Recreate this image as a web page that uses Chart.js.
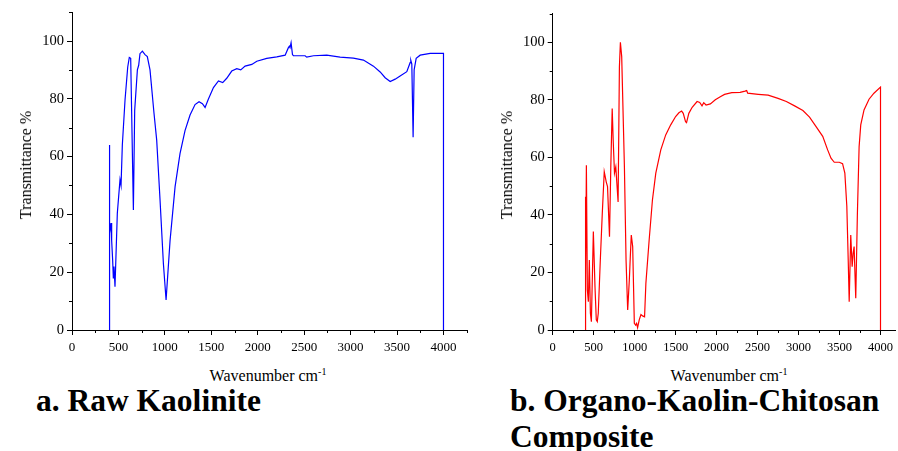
<!DOCTYPE html>
<html>
<head>
<meta charset="utf-8">
<script src="https://cdn.jsdelivr.net/npm/chart.js@4.4.1/dist/chart.umd.min.js"></script>
<style>
body { margin: 0; background: #fff; overflow: hidden; }
#page { position: relative; width: 898px; height: 451px; overflow: hidden; font-family: 'Liberation Serif', serif; color: #000; }
canvas { position: absolute; top: 0; }
.ytitle { position: absolute; transform: translate(-50%, -50%) rotate(-90deg); white-space: nowrap; font-size: 16px; }
.xtitle { position: absolute; transform: translateX(-50%); white-space: nowrap; font-size: 16px; line-height: 20px; }
.xtitle sup { font-size: 10px; }
.caption { position: absolute; font-weight: bold; font-size: 31.5px; line-height: 36px; white-space: nowrap; }
</style>
</head>
<body>
<div id="page">
  <canvas id="kaoChart" width="470" height="360" style="left:0"></canvas>
  <canvas id="compChart" width="418" height="360" style="left:480px"></canvas>
  <div class="ytitle" style="left:26px; top:165px">Transmittance %</div>
  <div class="ytitle" style="left:507px; top:165px">Transmittance %</div>
  <div class="xtitle" style="left:268px; top:362px">Wavenumber cm<sup>-1</sup></div>
  <div class="xtitle" style="left:729px; top:362px">Wavenumber cm<sup>-1</sup></div>
  <div class="caption" style="left:36px; top:383px">a. Raw Kaolinite</div>
  <div class="caption" style="left:510px; top:383px">b. Organo-Kaolin-Chitosan<br>Composite</div>
</div>
<script>
// 原始高嶺土 (a)
const kaoWave = [400, 400, 409, 420, 427, 438, 445, 452, 463, 488, 517, 528, 542, 571, 600, 617, 632, 661, 675, 704, 718, 732, 758, 786, 811, 840, 883, 912, 948, 984, 1013, 1056, 1110, 1163, 1217, 1271, 1325, 1368, 1404, 1433, 1469, 1523, 1577, 1623, 1666, 1720, 1774, 1817, 1864, 1936, 1990, 2097, 2205, 2295, 2330, 2341, 2348, 2359, 2374, 2384, 2510, 2528, 2600, 2743, 2887, 3030, 3138, 3246, 3318, 3372, 3426, 3480, 3533, 3605, 3641, 3648, 3659, 3673, 3684, 3706, 3749, 3857, 4000, 4000];
const kaoTrans = [0, 64, 33.5, 37, 31, 24, 18, 22, 15, 40.4, 52, 50, 64, 79.6, 91, 94.3, 94, 41.5, 76, 90, 91.6, 95.6, 96.5, 95.3, 94.6, 90, 75, 65.7, 45, 23, 10.4, 31, 49.6, 61, 69, 74.4, 78, 79, 78.3, 77, 79.9, 83.9, 86.2, 85.6, 87.1, 89.6, 90.4, 90, 91.3, 91.9, 93, 94, 94.5, 95.1, 97.7, 98.2, 97.7, 99.4, 95.3, 94.9, 94.9, 94.4, 94.9, 95.1, 94.4, 94.1, 93.4, 91.3, 89.3, 87.3, 86, 86.8, 87.9, 89.4, 92.5, 93.3, 92, 66.7, 90, 94, 95.1, 95.7, 95.7, 0];

// 有機高嶺土-幾丁聚醣複合材料 (b)
const compWave = [399, 399, 403, 411, 414, 423, 435, 447, 460, 472, 496, 516, 532, 544, 556, 581, 605, 629, 653, 669, 693, 709, 726, 738, 754, 770, 798, 814, 826, 842, 875, 895, 915, 935, 947, 959, 976, 996, 1012, 1024, 1036, 1056, 1077, 1097, 1121, 1137, 1177, 1217, 1258, 1319, 1379, 1440, 1500, 1540, 1573, 1593, 1621, 1633, 1661, 1702, 1762, 1794, 1822, 1843, 1871, 1924, 1984, 2045, 2097, 2186, 2287, 2347, 2367, 2379, 2508, 2629, 2750, 2851, 2952, 3053, 3134, 3214, 3295, 3355, 3396, 3436, 3497, 3537, 3565, 3589, 3606, 3618, 3637, 3654, 3666, 3678, 3698, 3718, 3739, 3759, 3799, 3860, 3920, 4000, 4000];
const compTrans = [0, 46.3, 16.2, 57.3, 57.3, 13.9, 9.8, 24.3, 5.8, 2.9, 34.2, 15, 3.5, 2.9, 5.8, 24.3, 40.5, 55, 51.5, 49.8, 32.4, 56.7, 77, 66, 54.5, 56.7, 44.5, 91.5, 100, 95, 56.7, 24.3, 6.95, 17.4, 25.5, 33, 29, 2.3, 1.7, 2.3, 0.8, 3.5, 5.4, 4.9, 4.6, 16.2, 31.3, 45.2, 54.5, 62.6, 67.8, 71.3, 74.2, 75.5, 76.1, 75.3, 72.4, 72.1, 75.3, 77.4, 79.4, 79.1, 77.9, 79, 78.2, 78.6, 80, 81.1, 81.9, 82.5, 82.6, 83, 83.2, 82.3, 81.9, 81.6, 80.5, 79.4, 77.9, 76.3, 74, 70.7, 67.3, 62.6, 59.7, 58.3, 58.3, 57.8, 54.5, 43, 24.3, 9.8, 33, 22, 26.6, 29, 11, 40.5, 63.7, 71.3, 76.5, 80.2, 82.3, 84.4, 0];

// 刻度
const xTicks = [0, 500, 1000, 1500, 2000, 2500, 3000, 3500, 4000];
const xMinorTicks = [250, 750, 1250, 1750, 2250, 2750, 3250, 3750, 4250];
const yTicks = [0, 20, 40, 60, 80, 100];
const yMinorTicks = [10, 30, 50, 70, 90, 110];

const serif = "'Liberation Serif', serif";

// 次刻度
const minorTicks = {
    id: 'minorTicks',
    afterDraw(chart) {
        const { ctx, scales: { x, y } } = chart;
        ctx.save();
        ctx.strokeStyle = '#000';
        ctx.lineWidth = 1;
        ctx.beginPath();
        xMinorTicks.filter(v => v <= x.max).forEach(v => {
            const px = Math.round(x.getPixelForValue(v)) + 0.5;
            ctx.moveTo(px, y.bottom);
            ctx.lineTo(px, y.bottom + 3);
        });
        yMinorTicks.filter(v => v <= y.max).forEach(v => {
            const py = Math.round(y.getPixelForValue(v)) + 0.5;
            ctx.moveTo(x.left, py);
            ctx.lineTo(x.left - 3, py);
        });
        ctx.stroke();
        ctx.restore();
    }
};

function makeSpectrum(id, wave, trans, color, opts) {
    const ctx = document.getElementById(id).getContext('2d');
    return new Chart(ctx, {
        type: 'line',
        data: {
            datasets: [{
                data: wave.map((w, i) => ({ x: w, y: trans[i] })),
                borderColor: color,
                borderWidth: 1.2,
                pointRadius: 0,
                tension: 0,
                fill: false
            }]
        },
        options: {
            responsive: false,
            animation: false,
            layout: { padding: { top: opts.top, right: opts.right, left: 0, bottom: 0 } },
            plugins: { legend: { display: false }, tooltip: { enabled: false } },
            scales: {
                x: {
                    type: 'linear',
                    min: 0,
                    max: opts.xMax,
                    afterBuildTicks: s => { s.ticks = xTicks.map(v => ({ value: v })); },
                    afterFit: s => { s.height = 30; },
                    border: { display: true, color: '#000', width: 1 },
                    grid: { drawOnChartArea: false, drawTicks: true, tickLength: 5, color: '#000' },
                    ticks: {
                        maxRotation: 0,
                        autoSkip: false,
                        padding: 5,
                        color: '#000',
                        callback: v => String(v),
                        font: { family: serif, size: opts.xFont }
                    }
                },
                y: {
                    min: 0,
                    max: 110,
                    afterBuildTicks: s => { s.ticks = yTicks.map(v => ({ value: v })); },
                    afterFit: s => { s.width = opts.yWidth; },
                    border: { display: true, color: '#000', width: 1 },
                    grid: { drawOnChartArea: false, drawTicks: true, tickLength: 5, color: '#000' },
                    ticks: {
                        padding: 3,
                        color: '#000',
                        callback: v => String(v),
                        font: { family: serif, size: 14.5 }
                    }
                }
            }
        },
        plugins: [minorTicks]
    });
}

makeSpectrum('kaoChart', kaoWave, kaoTrans, '#0000ff', { xMax: 4250, top: 12.1, right: 3.3, yWidth: 72, xFont: 13 });
makeSpectrum('compChart', compWave, compTrans, '#ff0000', { xMax: 4180, top: 13.5, right: 0, yWidth: 72.7, xFont: 12.5 });
</script>
</body>
</html>
